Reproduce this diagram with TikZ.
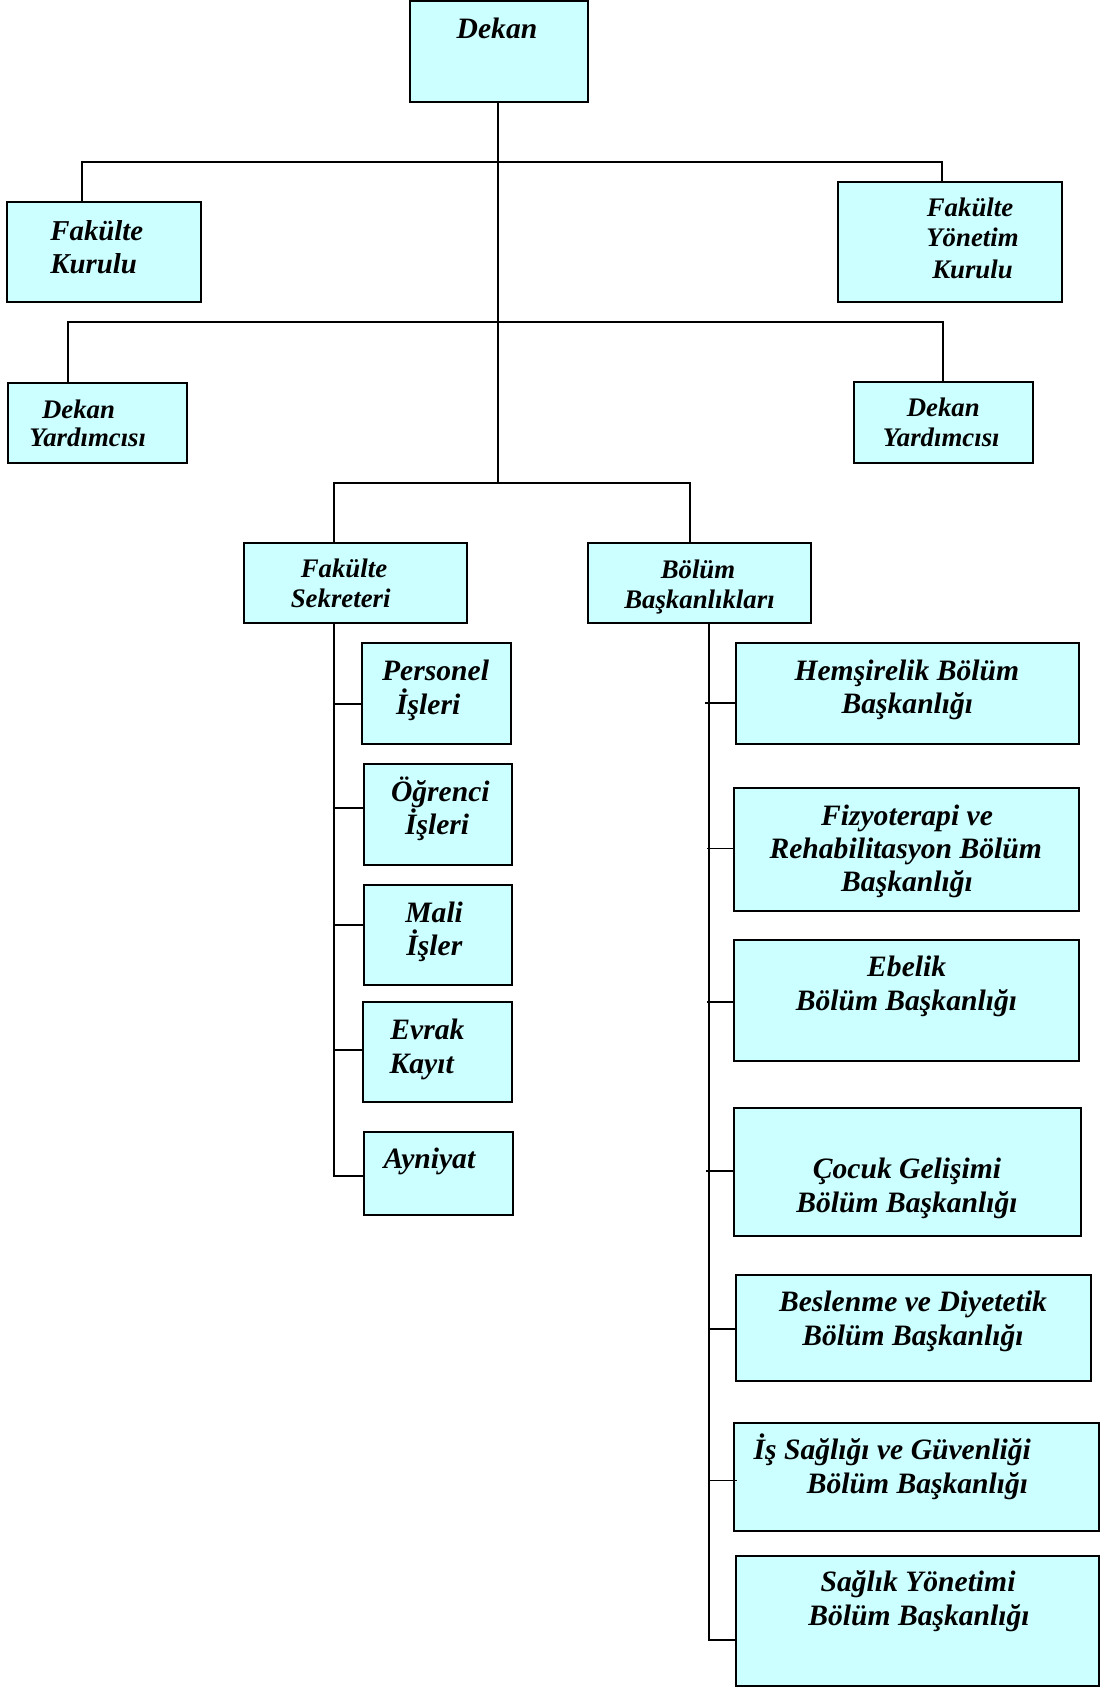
\documentclass[tikz,border=0pt]{standalone}
\usepackage{fontspec}
\setmainfont{Liberation Serif}
\usetikzlibrary{fit}
\definecolor{boxcyan}{HTML}{CCFFFF}
\newcommand\fntL{\fontsize{14.8pt}{16pt}\selectfont\bfseries\itshape}
\newcommand\fntK{\fontsize{14.4pt}{16pt}\selectfont\bfseries\itshape}
\newcommand\fntM{\fontsize{13.4pt}{15pt}\selectfont\bfseries\itshape}
\newcommand\orgbox[5]{%
  \coordinate (#1-nw) at (#2,#3);
  \coordinate (#1-se) at (#4,#5);
  \node[orgbx, fit=(#1-nw)(#1-se)] (#1) {};}
\begin{document}
\begin{tikzpicture}[x=0.5pt,y=-0.5pt,
  orgbx/.style={draw=black, line width=1pt, fill=boxcyan, inner sep=0pt},
  conn/.style={draw=black, line width=0.8pt},
  tc/.style={anchor=base, inner sep=0pt},
  tl/.style={anchor=base west, inner sep=0pt}]
\useasboundingbox (0,0) rectangle (1101,1688);

% ---------- boxes ----------
\orgbox{dekan}{410}{1}{588}{102}
\orgbox{fk}{7.3}{201.7}{201}{302}
\orgbox{fyk}{837.7}{181.7}{1061.7}{302}
\orgbox{dyl}{8}{382.7}{187}{462.7}
\orgbox{dyr}{853.7}{382}{1032.7}{463}
\orgbox{fs}{244}{542.7}{467.3}{623.3}
\orgbox{bb}{587.7}{542.7}{810.7}{623.3}
\orgbox{per}{362.3}{643.3}{511}{744.3}
\orgbox{ogr}{364}{764}{512.3}{864.5}
\orgbox{mali}{364}{884.5}{512.3}{985}
\orgbox{evr}{362.7}{1002.3}{512}{1102.3}
\orgbox{ayn}{364}{1131.7}{513.3}{1215}
\orgbox{hem}{736}{643.3}{1078.5}{744}
\orgbox{fiz}{734}{788.3}{1078.5}{910.5}
\orgbox{ebe}{734}{940.3}{1078.5}{1060.5}
\orgbox{coc}{734.3}{1107.5}{1081}{1236}
\orgbox{bes}{736}{1274.7}{1091}{1381.2}
\orgbox{isg}{734}{1422.5}{1099}{1530.5}
\orgbox{sy}{736}{1555.6}{1099}{1685.7}

% ---------- connector coordinates ----------
\coordinate (h1l) at (82,161.7);
\coordinate (h1r) at (942,161.7);
\coordinate (h2l) at (68,322);
\coordinate (h2r) at (943,322);
\coordinate (h3l) at (334,482.7);
\coordinate (h3r) at (690,482.7);
\coordinate (mv) at (498,482.7);
\coordinate (lv) at (334,1175.7);
\coordinate (rv) at (709,1640);
\coordinate (l1) at (334,704);
\coordinate (l2) at (334,808);
\coordinate (l3) at (334,925);
\coordinate (l4) at (334,1050);
\coordinate (r1) at (705,702.7);
\coordinate (r2) at (707,848.3);
\coordinate (r3) at (707,1002);
\coordinate (r4) at (706,1171.2);
\coordinate (r5) at (709,1328.7);
\coordinate (r6) at (709,1480.6);

% ---------- connectors ----------
\draw[conn] (dekan.south -| mv) -- (mv);
\draw[conn] (h1l |- fk.north) -- (h1l) -- (h1r) -- (h1r |- fyk.north);
\draw[conn] (h2l |- dyl.north) -- (h2l) -- (h2r) -- (h2r |- dyr.north);
\draw[conn] (h3l |- fs.north) -- (h3l) -- (h3r) -- (h3r |- bb.north);
\draw[conn] (lv |- fs.south) -- (lv) -- (lv -| ayn.west);
\draw[conn] (l1) -- (l1 -| per.west);
\draw[conn] (l2) -- (l2 -| ogr.west);
\draw[conn] (l3) -- (l3 -| mali.west);
\draw[conn] (l4) -- (l4 -| evr.west);
\draw[conn] (rv |- bb.south) -- (rv) -- (rv -| sy.west);
\draw[conn] (r1) -- (r1 -| hem.west);
\draw[conn] (r2) -- (r2 -| fiz.west);
\draw[conn] (r3) -- (r3 -| ebe.west);
\draw[conn] (r4) -- (r4 -| coc.west);
\draw[conn] (r5) -- (r5 -| bes.west);
\draw[conn] (r6) -- ([xshift=2pt]r6 -| isg.west);

% ---------- texts ----------
\node[tc,font=\fntL] (t-dekan) at (497,38) {Dekan};
\node[tl,font=\fntK] (t-fk1) at (50,240) {Fakülte};
\node[tl,font=\fntK] (t-fk2) at (50,273) {Kurulu};
\node[tc,font=\fntM] (t-fyk1) at (970,216.7) {Fakülte};
\node[tc,font=\fntM] (t-fyk2) at (972.5,246.7) {Yönetim};
\node[tc,font=\fntM] (t-fyk3) at (972.5,278) {Kurulu};
\node[tl,font=\fntM] (t-dyl1) at (41.7,418) {Dekan};
\node[tl,font=\fntM] (t-dyl2) at (29,446.7) {Yardımcısı};
\node[tc,font=\fntM] (t-dyr1) at (943.3,416.7) {Dekan};
\node[tc,font=\fntM] (t-dyr2) at (941.3,446) {Yardımcısı};
\node[tc,font=\fntM] (t-fs1) at (344,577) {Fakülte};
\node[tc,font=\fntM] (t-fs2) at (340.7,607.7) {Sekreteri};
\node[tc,font=\fntM] (t-bb1) at (698,578.3) {Bölüm};
\node[tc,font=\fntM] (t-bb2) at (699.5,608) {Başkanlıkları};
\node[tl,font=\fntL] (t-per1) at (381.7,680.7) {Personel};
\node[tl,font=\fntL] (t-per2) at (395.7,714) {İşleri};
\node[tl,font=\fntL] (t-ogr1) at (390.6,801) {Öğrenci};
\node[tl,font=\fntL] (t-ogr2) at (404.6,834.7) {İşleri};
\node[tl,font=\fntL] (t-mali1) at (405,922.7) {Mali};
\node[tl,font=\fntL] (t-mali2) at (406,955) {İşler};
\node[tl,font=\fntL] (t-evr1) at (390,1039) {Evrak};
\node[tl,font=\fntL] (t-evr2) at (389.3,1073.3) {Kayıt};
\node[tl,font=\fntL] (t-ayn) at (383.3,1168.3) {Ayniyat};
\node[tc,font=\fntL] (t-hem1) at (906.8,680) {Hemşirelik Bölüm};
\node[tc,font=\fntL] (t-hem2) at (907.4,713.3) {Başkanlığı};
\node[tc,font=\fntL] (t-fiz1) at (907,825) {Fizyoterapi ve};
\node[tc,font=\fntL] (t-fiz2) at (905.7,858.3) {Rehabilitasyon Bölüm};
\node[tc,font=\fntL] (t-fiz3) at (907,891.7) {Başkanlığı};
\node[tc,font=\fntL] (t-ebe1) at (906.7,976.3) {Ebelik};
\node[tc,font=\fntL] (t-ebe2) at (906.4,1010) {Bölüm Başkanlığı};
\node[tc,font=\fntL] (t-coc1) at (907,1178.7) {Çocuk Gelişimi};
\node[tc,font=\fntL] (t-coc2) at (907,1212.5) {Bölüm Başkanlığı};
\node[tc,font=\fntL] (t-bes1) at (913,1311.8) {Beslenme ve Diyetetik};
\node[tc,font=\fntL] (t-bes2) at (913,1345.6) {Bölüm Başkanlığı};
\node[tl,font=\fntL] (t-isg1) at (753.3,1459.2) {İş Sağlığı ve Güvenliği};
\node[tc,font=\fntL] (t-isg2) at (917.5,1493) {Bölüm Başkanlığı};
\node[tc,font=\fntL] (t-sy1) at (918,1591.2) {Sağlık Yönetimi};
\node[tc,font=\fntL] (t-sy2) at (919,1625) {Bölüm Başkanlığı};
\end{tikzpicture}
\end{document}
